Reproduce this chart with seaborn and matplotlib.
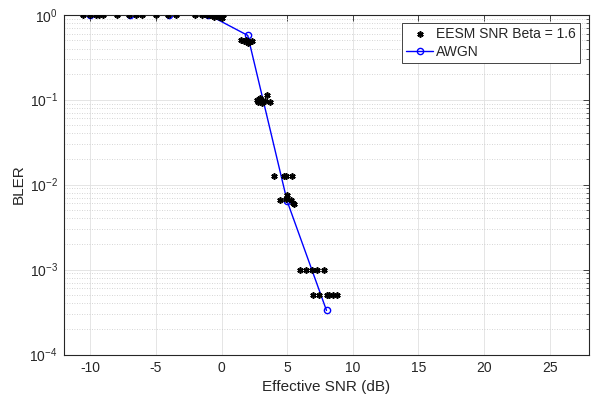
import numpy as np
import pandas as pd
import matplotlib
matplotlib.use("Agg")
import matplotlib.pyplot as plt
import seaborn as sns
from matplotlib.ticker import LogLocator, FixedLocator, NullFormatter

# EESM effective SNR samples (dB) and BLER
eesm_snr = [-10.54, -10.03, -9.57, -9.32, -9.06, -8.0, -7.06, -6.53, -6.05, -5.0,
            -4.04, -3.5, -2.03, -1.52, -1.1, -0.9, -0.7, -0.5, -0.3, -0.1, 0.1,
            -0.6, -0.2, 0.0,
            1.5, 1.7, 1.9, 2.0, 2.1, 2.3,
            2.7, 2.8, 2.9, 3.0, 3.1, 3.3, 3.5, 3.7,
            3.98, 4.77, 4.95, 5.38,
            5.0, 4.49, 4.95, 5.26, 5.45, 5.53,
            5.96, 6.47, 6.93, 7.31, 7.79,
            6.98, 7.43, 8.0, 8.19, 8.5, 8.8]
eesm_bler = [1, 1, 1, 1, 1, 1, 1, 1, 1, 1,
             1, 1, 1, 1, 1, 1, 1, 1, 1, 1, 1,
             0.95, 0.93, 0.92,
             0.5, 0.49, 0.5, 0.47, 0.48, 0.49,
             0.098, 0.095, 0.105, 0.1, 0.092, 0.097, 0.113, 0.094,
             0.0125, 0.0125, 0.0125, 0.0125,
             0.0075, 0.0065, 0.0067, 0.0065, 0.006, 0.0059,
             0.001, 0.001, 0.001, 0.001, 0.001,
             0.0005, 0.0005, 0.0005, 0.0005, 0.0005, 0.0005]

# AWGN reference curve
awgn_snr = [-10, -7, -4, -1, 2, 5, 8]
awgn_bler = [1, 1, 1, 1, 0.57, 0.0064, 3.3e-4]

x_ticks = [-10, -5, 0, 5, 10, 15, 20, 25]

sns.set_style("white")
plt.rcParams['font.family'] = ['Liberation Sans', 'DejaVu Sans']
plt.rcParams['mathtext.fontset'] = 'custom'
plt.rcParams['mathtext.rm'] = 'Liberation Sans'
plt.rcParams['mathtext.it'] = 'Liberation Sans:italic'
plt.rcParams['mathtext.bf'] = 'Liberation Sans:bold'
plt.rcParams['mathtext.default'] = 'regular'
plt.rcParams['axes.unicode_minus'] = False

fig = plt.figure(figsize=(5.93, 3.99), dpi=100)
ax = fig.add_axes([64/593, 1 - 354.5/399, (589-64)/593, (354.5-14.7)/399])

df_e = pd.DataFrame({"snr": eesm_snr, "bler": eesm_bler})
df_a = pd.DataFrame({"snr": awgn_snr, "bler": awgn_bler})

sns.lineplot(data=df_a, x="snr", y="bler", ax=ax, color="#0000ff", lw=1.0,
             marker="o", markersize=4.5, markerfacecolor="none",
             markeredgecolor="#0000ff", markeredgewidth=1.0,
             label="AWGN", zorder=2, sort=False)
ax.plot(eesm_snr, eesm_bler, linestyle="none", marker=(6, 2, 0), markersize=4.5,
        markeredgewidth=1.2, color="black", label="EESM SNR Beta = 1.6", zorder=3)

ax.set_yscale("log")
ax.set_xlim(-12, 28)
ax.set_ylim(1e-4, 1)
ax.xaxis.set_major_locator(FixedLocator(x_ticks))
ax.yaxis.set_major_locator(LogLocator(base=10, numticks=10))
ax.yaxis.set_minor_locator(LogLocator(base=10, subs=np.arange(2, 10), numticks=10))
ax.yaxis.set_minor_formatter(NullFormatter())

ax.grid(True, which="major", color="#e0e0e0", linestyle="-", linewidth=0.6)
ax.grid(True, which="minor", axis="y", color="#c8c8c8", linestyle=(0, (1, 2)), linewidth=0.6)
ax.set_axisbelow(True)

for s in ax.spines.values():
    s.set_color("#262626")
    s.set_linewidth(0.8)
ax.tick_params(which="both", direction="in", top=True, right=True, colors="#262626",
               labelsize=10, labelcolor="#262626")
ax.tick_params(which="major", length=4, width=0.6, pad=4.5)
ax.tick_params(which="minor", length=2.5, width=0.5)

ax.set_xlabel("Effective SNR (dB)", fontsize=11, color="#262626", labelpad=4)
ax.set_ylabel("BLER", fontsize=11, color="#262626", labelpad=3)

handles, labels = ax.get_legend_handles_labels()
order = [labels.index("EESM SNR Beta = 1.6"), labels.index("AWGN")]
leg = ax.legend([handles[i] for i in order], [labels[i] for i in order],
                loc="upper right", bbox_to_anchor=((580 - 64) / 525, (354.5 - 23.3) / 339.8),
                fontsize=10, frameon=True, fancybox=False, framealpha=1, edgecolor="#262626",
                handlelength=1.95, handletextpad=0.2, borderpad=0.3, labelspacing=0.22,
                borderaxespad=0)
leg.get_frame().set_linewidth(0.6)

fig.savefig("out.png", dpi=100)
